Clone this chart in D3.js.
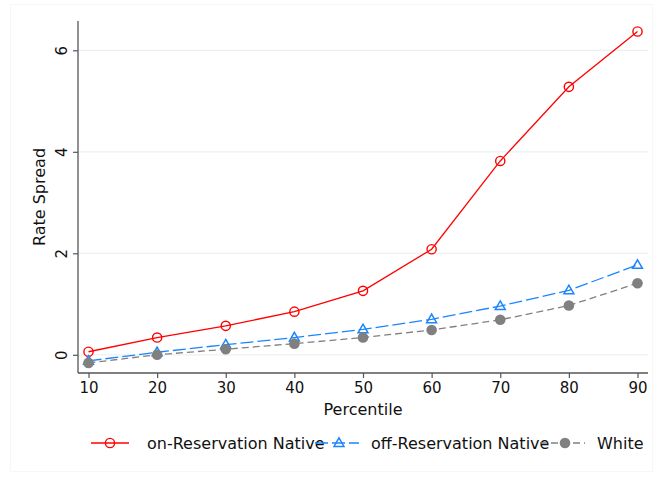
<!DOCTYPE html>
<html>
<head>
<meta charset="utf-8">
<script src="https://cdn.jsdelivr.net/npm/d3@7"></script>
<style>
  html, body { margin: 0; padding: 0; background: #fff; }
  svg { display: block; font-family: "DejaVu Sans", sans-serif; }
</style>
</head>
<body>
<svg id="chart" width="656" height="479"></svg>
<script>
// Percentiles on the x axis
const percentiles = [10, 20, 30, 40, 50, 60, 70, 80, 90];

// Rate spread by percentile for each group
const onReservation  = [0.06, 0.34, 0.57, 0.85, 1.26, 2.08, 3.82, 5.28, 6.37];
const offReservation = [-0.12, 0.05, 0.20, 0.34, 0.50, 0.70, 0.96, 1.27, 1.77];
const white          = [-0.16, 0.00, 0.11, 0.22, 0.34, 0.49, 0.69, 0.97, 1.41];

const seriesNames = ["on-Reservation Native", "off-Reservation Native", "White"];
const yTicks = [0, 2, 4, 6];
const xTicks = [10, 20, 30, 40, 50, 60, 70, 80, 90];

const svg = d3.select("#chart");

// faint outer frame
svg.append("rect")
  .attr("x", 10.5).attr("y", 4.5).attr("width", 642).attr("height", 467)
  .attr("fill", "none").attr("stroke", "#f6f7f8").attr("stroke-width", 1);

const plot = { left: 78, right: 648, top: 21, bottom: 373 };

const x = d3.scaleLinear().domain([10, 90]).range([88.5, 637.5]);
const y = d3.scaleLinear().domain([0, 6]).range([354.8, 50.3]);

// gridlines
svg.append("g").selectAll("line").data(yTicks).join("line")
  .attr("x1", plot.left).attr("x2", plot.right)
  .attr("y1", d => y(d)).attr("y2", d => y(d))
  .attr("stroke", "#eaf1f2").attr("stroke-width", 1.2);

// y axis
const yAxis = svg.append("g")
  .attr("transform", `translate(${plot.left},0)`)
  .call(d3.axisLeft(y).tickValues(yTicks).tickSize(5).tickPadding(4).tickFormat(d3.format("d")));
yAxis.select(".domain").attr("d", `M0,${plot.top}V${plot.bottom}`).attr("stroke", "#555").attr("stroke-width", 1.3);
yAxis.selectAll(".tick line").attr("stroke", "#555").attr("stroke-width", 1.2);
yAxis.selectAll(".tick text")
  .attr("transform", "rotate(-90)")
  .attr("x", 0).attr("y", -11)
  .attr("dy", 0)
  .attr("text-anchor", "middle")
  .attr("font-size", 15).attr("fill", "#111")
  .attr("font-family", "DejaVu Sans, sans-serif");

// x axis
const xAxis = svg.append("g")
  .attr("transform", `translate(0,${plot.bottom})`)
  .call(d3.axisBottom(x).tickValues(xTicks).tickSize(5).tickPadding(4).tickFormat(d3.format("d")));
xAxis.select(".domain").attr("d", `M${plot.left},0H${plot.right}`).attr("stroke", "#555").attr("stroke-width", 1.3);
xAxis.selectAll(".tick line").attr("stroke", "#555").attr("stroke-width", 1.2);
xAxis.selectAll(".tick text")
  .attr("font-size", 15).attr("fill", "#111")
  .attr("font-family", "DejaVu Sans, sans-serif");

// axis titles
svg.append("text")
  .attr("transform", "translate(45,197) rotate(-90)")
  .attr("text-anchor", "middle")
  .attr("font-size", 16).attr("fill", "#111")
  .text("Rate Spread");
svg.append("text")
  .attr("x", 363).attr("y", 415)
  .attr("text-anchor", "middle")
  .attr("font-size", 16).attr("fill", "#111")
  .text("Percentile");

const line = d3.line().x(d => x(d[0])).y(d => y(d[1]));

const series = [
  { name: seriesNames[0], values: onReservation, color: "#ff0000", dash: null, marker: "circleHollow" },
  { name: seriesNames[1], values: offReservation, color: "#1a85ff", dash: "13,4", marker: "triangle" },
  { name: seriesNames[2], values: white, color: "#808080", dash: "7,4", marker: "circleFilled" }
];

function drawMarker(g, type, color, cx, cy) {
  if (type === "circleHollow") {
    g.append("circle").attr("cx", cx).attr("cy", cy).attr("r", 4.6)
      .attr("fill", "none").attr("stroke", color).attr("stroke-width", 1.4);
  } else if (type === "triangle") {
    const s = 5.2;
    g.append("path")
      .attr("d", `M${cx},${cy - s}L${cx + s * 0.95},${cy + s * 0.65}L${cx - s * 0.95},${cy + s * 0.65}Z`)
      .attr("fill", "none").attr("stroke", color).attr("stroke-width", 1.5);
  } else {
    g.append("circle").attr("cx", cx).attr("cy", cy).attr("r", 5.3)
      .attr("fill", color).attr("stroke", "none");
  }
}

series.forEach(s => {
  const pts = percentiles.map((p, i) => [p, s.values[i]]);
  svg.append("path").datum(pts)
    .attr("d", line)
    .attr("fill", "none")
    .attr("stroke", s.color)
    .attr("stroke-width", 1.3)
    .attr("stroke-dasharray", s.dash);
  const g = svg.append("g");
  pts.forEach(d => drawMarker(g, s.marker, s.color, x(d[0]), y(d[1])));
});

// legend
const legendY = 443;
const legendItems = [
  { x0: 91, x1: 129, mx: 110, tx: 147 },
  { x0: 315, x1: 359, mx: 339, tx: 371 },
  { x0: 540, x1: 585, mx: 565, tx: 597 }
];
series.forEach((s, i) => {
  const it = legendItems[i];
  const g = svg.append("g");
  g.append("line")
    .attr("x1", it.x0).attr("x2", it.x1).attr("y1", legendY).attr("y2", legendY)
    .attr("stroke", s.color).attr("stroke-width", 1.3)
    .attr("stroke-dasharray", s.dash);
  drawMarker(g, s.marker, s.color, it.mx, legendY);
  g.append("text")
    .attr("x", it.tx).attr("y", legendY + 6)
    .attr("font-size", 16).attr("fill", "#111")
    .text(s.name);
});
</script>
</body>
</html>
